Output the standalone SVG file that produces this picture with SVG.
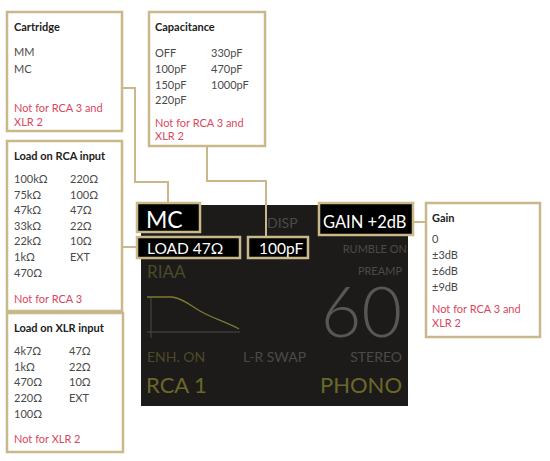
<svg xmlns="http://www.w3.org/2000/svg" width="550" height="461" viewBox="0 0 550 461">
<style>
  text { font-family: Lato, "Open Sans", "Liberation Sans", sans-serif; }
  .box { fill: #ffffff; stroke: #c8b88a; stroke-width: 2.5; }
  .hl { fill: #000000; stroke: #c8b88a; stroke-width: 2.5; }
  .conn { fill: none; stroke: #c8b88a; stroke-width: 2; }
  .title { font-size: 11px; font-weight: bold; fill: #222222; }
  .item { font-size: 11px; fill: #4a4a4a; }
  .note { font-size: 11px; fill: #d9475e; }
  .scr { fill: #4b4a48; }
  .olive { fill: #4c4a28; }
  .olive2 { fill: #6a6828; }
  .white { fill: #ffffff; }
  .big { font-family: "Lato Light", Lato, "Open Sans", sans-serif; font-weight: 300; fill: #575757; }
</style>
<rect width="550" height="461" fill="#ffffff"/>

<g id="screen">
  <rect x="141" y="205" width="267" height="201" fill="#1d1b1a"/>
  <text x="267" y="228" class="scr" font-size="14">DISP</text>
  <text x="407" y="253" class="scr" font-size="11" text-anchor="end">RUMBLE ON</text>
  <text x="402" y="275" class="scr" font-size="11" text-anchor="end">PREAMP</text>
  <text x="147" y="278" class="olive" font-size="17">RIAA</text>
  <line x1="151" y1="297" x2="151" y2="338" stroke="#4a4a4a" stroke-width="1"/>
  <line x1="147" y1="332" x2="240" y2="332" stroke="#4a4a4a" stroke-width="1"/>
  <path d="M147 297 L172 297 C185 299 192 307 200 311 C212 318 226 322 239 329" fill="none" stroke="#7d7a32" stroke-width="1.3"/>
  <text x="402" y="337" class="big" font-size="70" text-anchor="end">60</text>
  <text x="147" y="362" class="olive" font-size="14">ENH. ON</text>
  <text x="243" y="362" class="scr" font-size="14">L-R SWAP</text>
  <text x="402" y="362" class="scr" font-size="14" text-anchor="end">STEREO</text>
  <text x="146" y="393" class="olive2" font-size="22">RCA 1</text>
  <text x="402" y="393" class="olive2" font-size="22" text-anchor="end">PHONO</text>
</g>

<g id="connectors">
  <polyline class="conn" points="122,88 135,88 135,182 168,182 168,203"/>
  <polyline class="conn" points="207,146 207,181 266,181 266,237"/>
  <line class="conn" x1="122" y1="247" x2="137" y2="247"/>
  <line class="conn" x1="413" y1="222" x2="426" y2="222"/>
</g>

<g id="mc-display">
  <rect class="hl" x="137" y="203" width="63" height="29"/>
  <text x="146" y="228" class="white" font-size="23">MC</text>
</g>
<g id="load-display">
  <rect class="hl" x="137" y="237" width="103" height="21"/>
  <text x="147" y="254" class="white" font-size="15.5">LOAD 47Ω</text>
</g>
<g id="cap-display">
  <rect class="hl" x="248" y="237" width="60" height="21"/>
  <text x="259" y="254" class="white" font-size="15.5">100pF</text>
</g>
<g id="gain-display">
  <rect class="hl" x="319" y="203" width="94" height="32"/>
  <text x="323" y="228" class="white" font-size="16.5">GAIN +2dB</text>
</g>

<g id="cartridge">
  <rect class="box" x="7" y="12" width="115" height="119"/>
  <text x="14" y="31" class="title">Cartridge</text>
  <text x="14" y="56" class="item">MM</text>
  <text x="14" y="73" class="item">MC</text>
  <text x="14" y="112" class="note">Not for RCA 3 and</text>
  <text x="14" y="126" class="note">XLR 2</text>
</g>

<g id="capacitance">
  <rect class="box" x="149" y="12" width="116" height="134"/>
  <text x="155" y="31" class="title">Capacitance</text>
  <text x="155" y="57" class="item">OFF</text>
  <text x="155" y="73" class="item">100pF</text>
  <text x="155" y="89" class="item">150pF</text>
  <text x="155" y="104" class="item">220pF</text>
  <text x="211" y="57" class="item">330pF</text>
  <text x="211" y="73" class="item">470pF</text>
  <text x="211" y="89" class="item">1000pF</text>
  <text x="155" y="127" class="note">Not for RCA 3 and</text>
  <text x="155" y="140" class="note">XLR 2</text>
</g>

<g id="load-rca">
  <rect class="box" x="7" y="141" width="115" height="170"/>
  <text x="14" y="160" class="title">Load on RCA input</text>
  <text x="14" y="183" class="item">100kΩ</text>
  <text x="14" y="198.6" class="item">75kΩ</text>
  <text x="14" y="214.2" class="item">47kΩ</text>
  <text x="14" y="229.8" class="item">33kΩ</text>
  <text x="14" y="245.4" class="item">22kΩ</text>
  <text x="14" y="261" class="item">1kΩ</text>
  <text x="14" y="276.6" class="item">470Ω</text>
  <text x="70" y="183" class="item">220Ω</text>
  <text x="70" y="198.6" class="item">100Ω</text>
  <text x="70" y="214.2" class="item">47Ω</text>
  <text x="70" y="229.8" class="item">22Ω</text>
  <text x="70" y="245.4" class="item">10Ω</text>
  <text x="70" y="261" class="item">EXT</text>
  <text x="14" y="303" class="note">Not for RCA 3</text>
</g>

<g id="load-xlr">
  <rect class="box" x="7" y="313" width="116" height="139"/>
  <text x="14" y="332" class="title">Load on XLR input</text>
  <text x="14" y="355" class="item">4k7Ω</text>
  <text x="14" y="370.7" class="item">1kΩ</text>
  <text x="14" y="386.4" class="item">470Ω</text>
  <text x="14" y="402.1" class="item">220Ω</text>
  <text x="14" y="417.8" class="item">100Ω</text>
  <text x="69" y="355" class="item">47Ω</text>
  <text x="69" y="370.7" class="item">22Ω</text>
  <text x="69" y="386.4" class="item">10Ω</text>
  <text x="69" y="402.1" class="item">EXT</text>
  <text x="14" y="443" class="note">Not for XLR 2</text>
</g>

<g id="gain">
  <rect class="box" x="426" y="203" width="114" height="134"/>
  <text x="432" y="222" class="title">Gain</text>
  <text x="432" y="243" class="item">0</text>
  <text x="432" y="259" class="item">±3dB</text>
  <text x="432" y="275" class="item">±6dB</text>
  <text x="432" y="291" class="item">±9dB</text>
  <text x="432" y="313" class="note">Not for RCA 3 and</text>
  <text x="432" y="327" class="note">XLR 2</text>
</g>
</svg>
